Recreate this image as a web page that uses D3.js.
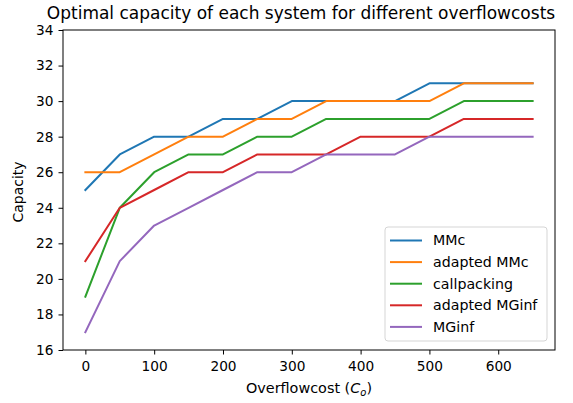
<!DOCTYPE html>
<html>
<head>
<meta charset="utf-8">
<script src="https://cdn.jsdelivr.net/npm/d3@7"></script>
<style>
  body { margin: 0; background: #fff; }
  text { font-family: "DejaVu Sans", sans-serif; }
</style>
</head>
<body>
<div id="chart"></div>
<script>
// overflow cost values on the x axis
const costs = [0, 50, 100, 150, 200, 250, 300, 350, 400, 450, 500, 550, 600, 650];

const mmc        = [25, 27, 28, 28, 29, 29, 30, 30, 30, 30, 31, 31, 31, 31];
const adaptedMmc = [26, 26, 27, 28, 28, 29, 29, 30, 30, 30, 30, 31, 31, 31];
const callpack   = [19, 24, 26, 27, 27, 28, 28, 29, 29, 29, 29, 30, 30, 30];
const adaptedMg  = [21, 24, 25, 26, 26, 27, 27, 27, 28, 28, 28, 29, 29, 29];
const mginf      = [17, 21, 23, 24, 25, 26, 26, 27, 27, 27, 28, 28, 28, 28];

const seriesNames = ['MMc', 'adapted MMc', 'callpacking', 'adapted MGinf', 'MGinf'];
const seriesValues = [mmc, adaptedMmc, callpack, adaptedMg, mginf];
const colors = ['#1f77b4', '#ff7f0e', '#2ca02c', '#d62728', '#9467bd'];

const xTicks = [0, 100, 200, 300, 400, 500, 600];
const yTicks = [16, 18, 20, 22, 24, 26, 28, 30, 32, 34];

const width = 573, height = 403;
const mLeft = 63, mRight = 555, mTop = 30, mBottom = 350;

const svg = d3.select('#chart').append('svg')
  .attr('width', width)
  .attr('height', height);

const x = d3.scaleLinear().domain([-32.5, 682.5]).range([mLeft, mRight]);
const y = d3.scaleLinear().domain([16, 34]).range([mBottom, mTop]);

// lines
const line = d3.line()
  .x((d, i) => x(costs[i]))
  .y(d => y(d));

seriesValues.forEach((vals, k) => {
  svg.append('path')
    .datum(vals)
    .attr('d', line)
    .attr('fill', 'none')
    .attr('stroke', colors[k])
    .attr('stroke-width', 2)
    .attr('stroke-linejoin', 'round')
    .attr('stroke-linecap', 'square');
});

// axes
const xAxis = svg.append('g')
  .attr('transform', `translate(0,${mBottom})`)
  .call(d3.axisBottom(x).tickValues(xTicks).tickSize(4.5).tickPadding(7));
const yAxis = svg.append('g')
  .attr('transform', `translate(${mLeft},0)`)
  .call(d3.axisLeft(y).tickValues(yTicks).tickSize(4.5).tickPadding(5));

[xAxis, yAxis].forEach(g => {
  g.select('.domain').remove();
  g.selectAll('line').attr('stroke', '#000').attr('stroke-width', 1);
  g.selectAll('text')
    .attr('font-size', 13.7)
    .attr('fill', '#000')
    .style('font-family', '"DejaVu Sans", sans-serif');
});

// frame
svg.append('rect')
  .attr('x', mLeft).attr('y', mTop)
  .attr('width', mRight - mLeft).attr('height', mBottom - mTop)
  .attr('fill', 'none')
  .attr('stroke', '#000')
  .attr('stroke-width', 1);

// title and labels
svg.append('text')
  .attr('x', 301).attr('y', 19)
  .attr('text-anchor', 'middle')
  .attr('font-size', 17)
  .text('Optimal capacity of each system for different overflowcosts');

const xl = svg.append('text')
  .attr('x', (mLeft + mRight) / 2).attr('y', 393)
  .attr('text-anchor', 'middle')
  .attr('font-size', 14.4);
xl.append('tspan').text('Overflowcost (');
xl.append('tspan').attr('font-style', 'italic').text('C');
xl.append('tspan').attr('font-style', 'italic').attr('font-size', 10).attr('dy', 3).text('o');
xl.append('tspan').attr('dy', -3).text(')');

svg.append('text')
  .attr('transform', `translate(23,192) rotate(-90)`)
  .attr('text-anchor', 'middle')
  .attr('font-size', 14)
  .text('Capacity');

// legend
const lg = svg.append('g').attr('transform', 'translate(385,227)');
lg.append('rect')
  .attr('width', 162).attr('height', 114)
  .attr('rx', 3)
  .attr('fill', '#fff').attr('fill-opacity', 0.8)
  .attr('stroke', '#d5d5d5').attr('stroke-width', 1);

seriesNames.forEach((name, k) => {
  const yy = 13.5 + k * 21.6;
  lg.append('line')
    .attr('x1', 5).attr('x2', 37)
    .attr('y1', yy).attr('y2', yy)
    .attr('stroke', colors[k])
    .attr('stroke-width', 2);
  lg.append('text')
    .attr('x', 48).attr('y', yy)
    .attr('dy', '0.35em')
    .attr('font-size', 14.2)
    .text(name);
});
</script>
</body>
</html>
